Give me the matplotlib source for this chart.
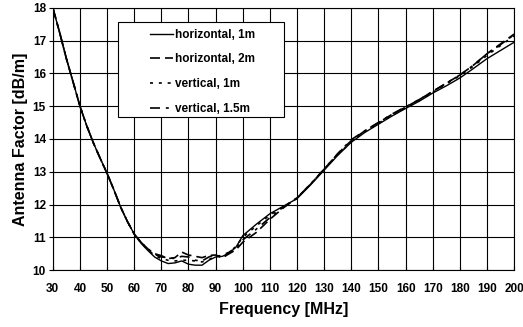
import matplotlib
matplotlib.use('Agg')
import matplotlib.pyplot as plt
import matplotlib.patches as mpatches

plt.rcParams['font.family'] = ['Liberation Sans', 'DejaVu Sans']
plt.rcParams['font.weight'] = 'bold'

# frequency grid [MHz]
freq = [30, 32.5, 35, 37.5, 40, 42.5, 45, 47.5, 50, 52.5, 55, 57.5, 60,
        62.5, 65, 67.5, 70, 72.5, 75, 77.5, 80, 82.5, 85, 87.5, 90, 92.5,
        95, 97.5, 100,
        105, 110, 115, 120, 125, 130, 135, 140, 145, 150, 155, 160, 165,
        170, 175, 180, 185, 190, 195, 200]

# antenna factor [dB/m]; below 60 MHz all four coincide
af_common = [18.0, 17.25, 16.45, 15.73, 15.0, 14.4, 13.87, 13.4, 12.95,
             12.45, 11.92, 11.48, 11.1]

h_1m = af_common + [
    10.82, 10.6, 10.4, 10.28, 10.2, 10.22, 10.28, 10.18, 10.15, 10.15,
    10.3, 10.4, 10.42, 10.52, 10.7, 11.05,
    11.4, 11.72, 11.95, 12.18, 12.6, 13.05, 13.5, 13.9, 14.2, 14.45,
    14.7, 14.93, 15.15, 15.4, 15.62, 15.86, 16.15, 16.45, 16.7, 16.95]
h_2m = af_common + [
    10.85, 10.65, 10.5, 10.44, 10.35, 10.38, 10.55, 10.46, 10.42, 10.38,
    10.45, 10.46, 10.38, 10.5, 10.62, 10.85,
    11.15, 11.55, 11.9, 12.2, 12.62, 13.08, 13.55, 13.95, 14.25, 14.5,
    14.75, 14.97, 15.2, 15.45, 15.7, 15.95, 16.25, 16.6, 16.9, 17.2]
v_1m = af_common + [
    10.83, 10.62, 10.45, 10.35, 10.3, 10.28, 10.3, 10.3, 10.28, 10.25,
    10.32, 10.42, 10.45, 10.55, 10.72, 11.0,
    11.35, 11.68, 11.93, 12.2, 12.62, 13.08, 13.52, 13.92, 14.22, 14.48,
    14.72, 14.95, 15.17, 15.42, 15.68, 15.93, 16.22, 16.55, 16.85, 17.15]
v_15m = af_common + [
    10.85, 10.64, 10.48, 10.4, 10.38, 10.35, 10.42, 10.4, 10.3, 10.28,
    10.4, 10.48, 10.35, 10.55, 10.68, 10.92,
    11.25, 11.6, 11.92, 12.2, 12.63, 13.08, 13.55, 13.98, 14.25, 14.5,
    14.76, 14.98, 15.2, 15.45, 15.7, 15.95, 16.25, 16.6, 16.88, 17.18]

labels = ['horizontal, 1m', 'horizontal, 2m', 'vertical, 1m', 'vertical, 1.5m']

fig = plt.figure(figsize=(5.23, 3.27), dpi=100)
ax = fig.add_axes([0.101, 0.174, 0.882, 0.802])

ax.plot(freq, h_1m, color='black', lw=1.0, ls='-', label=labels[0])
ax.plot(freq, h_2m, color='black', lw=1.2, ls=(0, (6, 3)), label=labels[1])
ax.plot(freq, v_1m, color='black', lw=1.2, ls=(0, (1.8, 3.5)), label=labels[2])
ax.plot(freq, v_15m, color='black', lw=1.2, ls=(0, (6, 3.5, 1.8, 3.5)), label=labels[3])

ax.set_xlim(30, 200)
ax.set_ylim(10, 18)
ax.set_xticks(range(30, 201, 10))
ax.set_yticks(range(10, 19, 1))
ax.grid(True, color='black', lw=0.8)
ax.set_axisbelow(True)
for s in ax.spines.values():
    s.set_linewidth(0.8)
ax.tick_params(axis='y', direction='out', length=3, width=0.8, labelsize=8.5, pad=2)
ax.tick_params(axis='x', direction='in', length=3, width=0.8, labelsize=8.5, pad=9)

ax.set_xlabel('Frequency [MHz]', fontsize=11.5, fontweight='bold', labelpad=5)
ax.set_ylabel('Antenna Factor [dB/m]', fontsize=11.5, fontweight='bold', labelpad=3)

# legend box drawn separately, content centred inside like the original
box = mpatches.Rectangle((0.1417, 0.584), 0.3593, 0.363, transform=ax.transAxes,
                         facecolor='white', edgecolor='black', lw=0.8, zorder=4)
ax.add_patch(box)
leg = ax.legend(loc='upper left', bbox_to_anchor=(0.2104, 0.92), frameon=False,
                fontsize=8.5, handlelength=2.0, labelspacing=1.07,
                borderpad=0, handletextpad=0.17, borderaxespad=0)
leg.set_zorder(5)
for t in leg.get_texts():
    t.set_fontweight('bold')

fig.savefig('out.png', dpi=100)
